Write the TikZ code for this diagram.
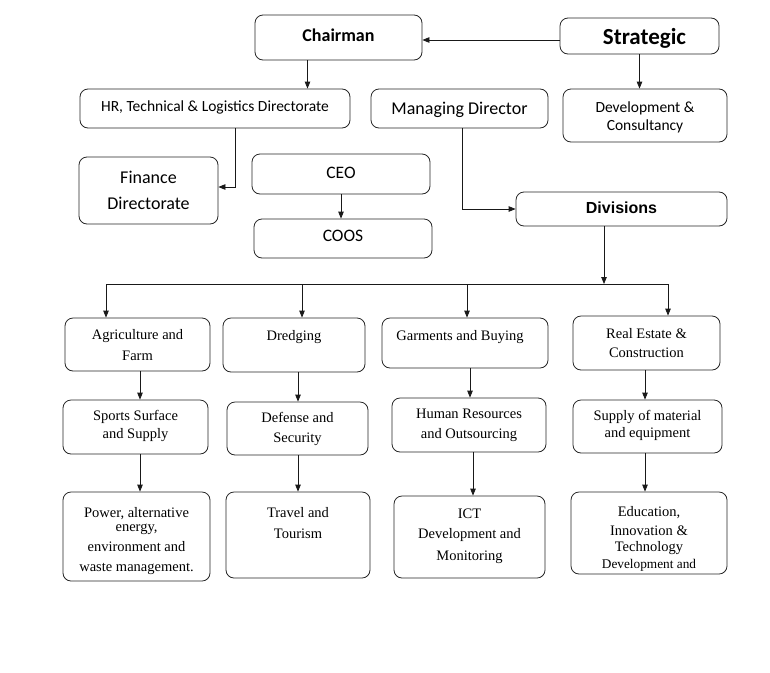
\documentclass[tikz,border=0pt]{standalone}
\usepackage{fontspec}
\setmainfont{Liberation Serif}
\newfontfamily\calib{Carlito}
\newfontfamily\arialf{Liberation Sans}
\usetikzlibrary{arrows.meta}
% #1 width, #2 height, #3 space above first line, #4 text
\newcommand\bxt[4]{\parbox[c][#2pt][t]{#1pt}{\centering\parskip=0pt\vspace*{#3pt}\rule{0pt}{16pt}#4\par}}
\newcommand\fc[2]{\calib\fontsize{#1}{#2}\selectfont}
\newcommand\ft[2]{\fontsize{#1}{#2}\selectfont}
\begin{document}
\begin{tikzpicture}[x=1pt,y=-1pt,
  box/.style={draw=black!85, rounded corners=8pt, inner sep=0pt, line width=0.8pt},
  arr/.style={draw=black!90, line width=0.8pt, -{Triangle[length=7pt,width=5.5pt]}},
  ln/.style={draw=black!90, line width=0.8pt}]
\useasboundingbox[fill=white] (0,0) rectangle (770,672);

% top part
\node[box] (chair) at (338.5,37.5) {\bxt{167}{45}{10}{\fc{18}{18}\bfseries Chairman}};
\node[box] (strat) at (639.5,36)   {\bxt{159}{36}{10}{\hspace*{10pt}\fc{23}{24}\bfseries Strategic}};
\node[box] (hr)    at (215,108.5)  {\bxt{270}{39}{6}{\fc{15.5}{18}HR, Technical \& Logistics Directorate}};
\node[box] (md)    at (459.5,108.5){\bxt{177}{39}{9}{\fc{18}{18}Managing Director}};
\node[box] (dev)   at (645,115.5)  {\bxt{164}{53}{7}{\fc{15.5}{18}Development \&\\Consultancy}};
\node[box] (fin)   at (148.5,190.5){\bxt{139}{67}{10}{\fc{18}{26}Finance\\Directorate}};
\node[box] (ceo)   at (341,174)    {\bxt{178}{40}{8}{\fc{17.5}{18}CEO}};
\node[box] (coos)  at (343,238.5)  {\bxt{178}{39}{6}{\fc{17.5}{18}COOS}};
\node[box] (div)   at (621.5,209)  {\bxt{211}{34}{5}{\arialf\fontsize{16}{18}\selectfont\bfseries Divisions}};

% row 1
\node[box] (agri)  at (137.5,344.5){\bxt{145}{53}{5}{\ft{14.5}{21}Agriculture and\\Farm}};
\node[box] (dred)  at (294,345)    {\bxt{142}{54}{6}{\ft{14.5}{20}Dredging}};
\node[box] (garm)  at (465,343)    {\bxt{166}{50}{6}{\ft{14.5}{20}Garments and Buying\hspace*{10pt}}};
\node[box] (real)  at (646.5,343)  {\bxt{147}{54}{6}{\ft{14.5}{19}Real Estate \&\\Construction}};
% row 2
\node[box] (sport) at (135.5,427)  {\bxt{145}{54}{4}{\ft{14.5}{18}Sports Surface\\and Supply}};
\node[box] (def)   at (297.5,428.5){\bxt{141}{53}{4}{\ft{14.5}{20}Defense and\\Security}};
\node[box] (hum)   at (469,425)    {\bxt{154}{54}{4}{\ft{14.5}{20}Human Resources\\and Outsourcing}};
\node[box] (sup)   at (647.5,426.5){\bxt{149}{53}{4}{\ft{14.5}{17}Supply of material\\and equipment}};
% row 3
\node[box] (pow)   at (136.5,536.5){\bxt{147}{89}{9}{\ft{14.5}{14}Power, alternative\\energy,\\[6pt]environment and\\[6pt]waste management.}};
\node[box] (trav)  at (298,535)    {\bxt{144}{86}{9}{\ft{14.5}{21}Travel and\\Tourism}};
\node[box] (ict)   at (469.5,537)  {\bxt{151}{82}{6}{\ft{14.5}{20}ICT\\Development and\\[2pt]Monitoring}};
\node[box] (edu)   at (649,533)    {\bxt{156}{82}{8}{\ft{14.5}{16}Education,\\[3pt]Innovation \&\\Technology\\[1pt]{\fontsize{13.3}{16}\selectfont Development and}}};

% connectors, top
\coordinate (sw) at ([yshift=-4pt]strat.west);
\draw[arr] (sw) -- (sw -| chair.east);
\draw[arr] (strat.south) -- (strat.south |- dev.north);
\coordinate (c1) at ([xshift=-31pt]chair.south);
\draw[arr] (c1) -- (c1 |- hr.north);
\coordinate (h1) at ([xshift=20pt]hr.south);
\coordinate (f1) at ([yshift=3.5pt]fin.east);
\draw[arr] (h1) |- (f1);
\coordinate (m1) at ([xshift=2.5pt]md.south);
\draw[arr] (m1) |- (div.west);
\draw[arr] (ceo.south) -- (ceo.south |- coos.north);

% bus
\coordinate (d1) at ([xshift=-17.5pt]div.south);
\coordinate (busJ) at (604,284);
\coordinate (busL) at (106,284);
\coordinate (bus2) at (302,284);
\coordinate (bus3) at (467,284);
\coordinate (busR) at (668,284);
\draw[ln] (busL) -- (busR);
\draw[arr] (d1) -- (busJ);
\draw[arr] (busL) -- (busL |- agri.north);
\draw[arr] (bus2) -- (bus2 |- dred.north);
\draw[arr] (bus3) -- (bus3 |- garm.north);
\draw[arr] (busR) -- (busR |- real.north);

% columns
\coordinate (a1) at ([xshift=2.5pt]agri.south);
\draw[arr] (a1) -- (a1 |- sport.north);
\coordinate (s1) at ([xshift=4.5pt]sport.south);
\draw[arr] (s1) -- (s1 |- pow.north);
\coordinate (r1) at ([xshift=4pt]dred.south);
\draw[arr] (r1) -- (r1 |- def.north);
\coordinate (e1) at ([xshift=0.5pt]def.south);
\draw[arr] (e1) -- (e1 |- trav.north);
\coordinate (g1) at ([xshift=5pt]garm.south);
\draw[arr] (g1) -- (g1 |- hum.north);
\coordinate (u1) at ([xshift=4pt]hum.south);
\draw[arr] (u1) -- (u1 |- ict.north);
\coordinate (l1) at ([xshift=-1.5pt]real.south);
\draw[arr] (l1) -- (l1 |- sup.north);
\coordinate (p1) at ([xshift=-2.5pt]sup.south);
\draw[arr] (p1) -- (p1 |- edu.north);
\end{tikzpicture}
\end{document}
